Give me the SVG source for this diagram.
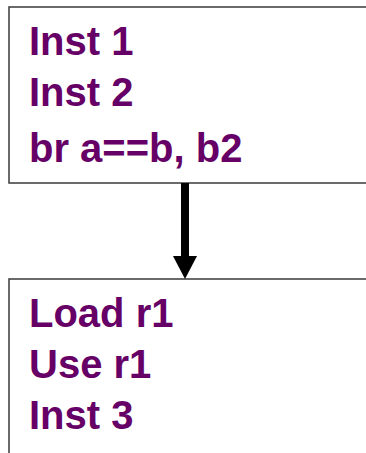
<svg xmlns="http://www.w3.org/2000/svg" width="366" height="453" viewBox="0 0 366 453">
  <style>
    .box { fill: #ffffff; stroke: #3a3a3a; stroke-width: 1.5; }
    .code { font-family: "Liberation Sans", Arial, sans-serif; font-weight: bold; font-size: 40px; fill: #660066; }
  </style>
  <defs>
    <!-- arrowhead starts where the shaft ends, tip touches the next block -->
    <marker id="head" viewBox="0 0 23 24" refX="0" refY="12" markerWidth="23" markerHeight="24" markerUnits="userSpaceOnUse" orient="auto">
      <path d="M0,0 L23,12 L0,24 Z" fill="#000000"/>
    </marker>
  </defs>
  <rect width="366" height="453" fill="#ffffff"/>

  <g id="block1">
    <rect class="box" x="9" y="7" width="370" height="176"/>
    <text class="code" x="29" y="55">Inst 1</text>
    <text class="code" x="29" y="106">Inst 2</text>
    <text class="code" x="29" y="162">br a==b, b2</text>
  </g>

  <g id="block2">
    <rect class="box" x="9" y="279" width="370" height="190"/>
    <text class="code" x="29" y="327">Load r1</text>
    <text class="code" x="29" y="378">Use r1</text>
    <text class="code" x="29" y="429">Inst 3</text>
  </g>

  <g id="connectors">
    <line x1="185" y1="183" x2="185" y2="256" stroke="#000000" stroke-width="8" marker-end="url(#head)"/>
  </g>
</svg>
